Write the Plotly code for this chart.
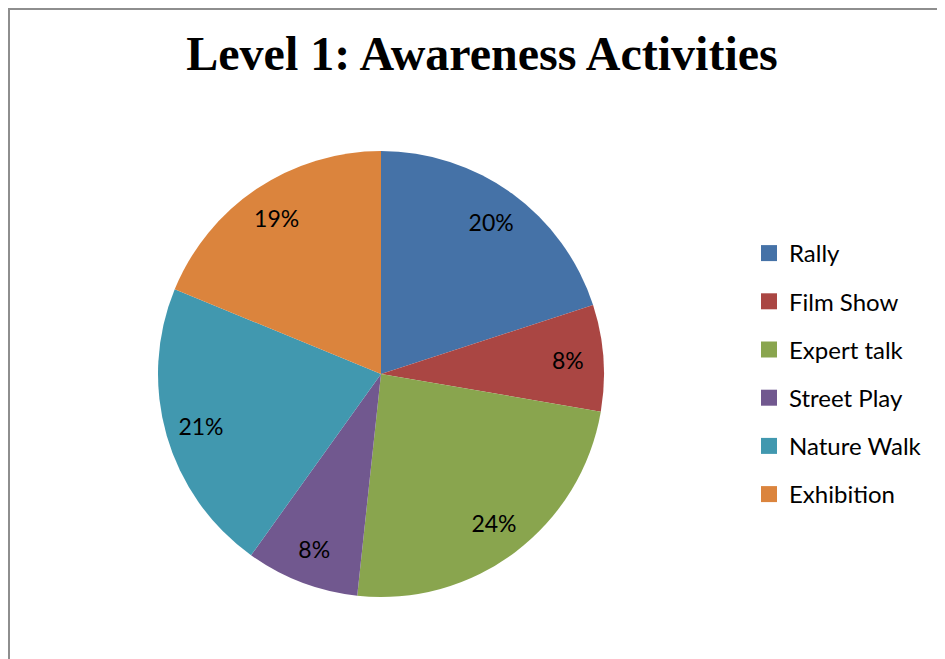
import plotly.graph_objects as go

categories = ["Rally", "Film Show", "Expert talk", "Street Play", "Nature Walk", "Exhibition"]
values = [20.0, 7.7, 24.0, 8.2, 21.3, 18.8]
colors = ["#4572A7", "#AA4643", "#89A54E", "#71588F", "#4198AF", "#DB843D"]
title_text = "Level 1: Awareness Activities"

W, H = 945, 659
OFF = 8  # page body margin offset


def px_x(x):
    return (x - OFF) / W


def px_y(y):
    return 1 - (y - OFF) / H


dom_x = [px_x(158), px_x(604)]
dom_y = [px_y(597), px_y(151)]

fig = go.Figure()
# main slices
fig.add_trace(go.Pie(
    labels=categories, values=values, sort=False, direction="clockwise", rotation=0,
    marker=dict(colors=colors, line=dict(width=0)),
    textinfo="none", showlegend=False, hoverinfo="label+percent",
    domain=dict(x=dom_x, y=dom_y),
))
# labels placed in an outer ring (transparent) so they sit near the rim
fig.add_trace(go.Pie(
    labels=categories, values=values, sort=False, direction="clockwise", rotation=0,
    hole=0.68,
    marker=dict(colors=["rgba(0,0,0,0)"] * len(categories), line=dict(width=0)),
    texttemplate="%{percent:.0%}", textposition="inside", insidetextorientation="horizontal",
    textfont=dict(family="Lato", size=23, color="black"),
    showlegend=False, hoverinfo="skip",
    domain=dict(x=dom_x, y=dom_y),
))
# legend entries
for cat, col in zip(categories, colors):
    fig.add_trace(go.Scatter(
        x=[None], y=[None], mode="markers", name=cat, legendgroup=cat,
        marker=dict(symbol="square", size=16, color=col),
    ))

fig.update_layout(
    width=W, height=H,
    margin=dict(l=0, r=0, t=0, b=0),
    paper_bgcolor="white", plot_bgcolor="white",
    xaxis=dict(visible=False), yaxis=dict(visible=False),
    title=dict(text="<b>" + title_text + "</b>", x=px_x(482), xanchor="center",
               y=px_y(53.5), yanchor="middle",
               font=dict(family="Liberation Serif", size=48, color="black")),
    legend=dict(x=px_x(749), y=px_y(231), xanchor="left", yanchor="top",
                font=dict(family="Lato", size=24, color="black"),
                tracegroupgap=14, bgcolor="rgba(0,0,0,0)"),
    shapes=[dict(type="rect", xref="paper", yref="paper",
                 x0=1 / W, y0=1 - 1 / H, x1=1.2, y1=-0.2,
                 line=dict(color="#8E8E8E", width=2), fillcolor="rgba(0,0,0,0)", layer="below")],
)

fig.write_html("out.html")
